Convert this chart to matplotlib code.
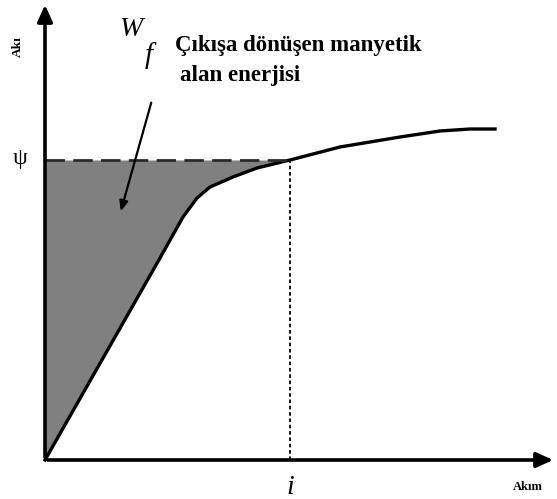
import matplotlib.pyplot as plt
import numpy as np

# magnetisation curve: akım (x) vs akı (y)
akim = [0, 115, 138, 152, 165, 188, 212, 245, 295, 355, 395, 425, 450]
aki = [0, 202, 243, 262, 273, 283, 292, 300, 313, 323, 329, 331, 331]
psi = 300
i_op = 245

plt.rcParams['font.family'] = ['Liberation Serif', 'DejaVu Serif']
fig = plt.figure(figsize=(5.57, 4.99), dpi=100)
ax = fig.add_axes([0, 0, 1, 1])
ax.set_xlim(-45, 512)
ax.set_ylim(-39, 460)
ax.axis('off')

# shaded co-energy region between curve and psi level
xs = np.linspace(0, i_op, 200)
ys = np.interp(xs, akim, aki)
ax.fill_between(xs, ys, psi, color='#808080', lw=0)

ax.plot(akim, aki, color='black', lw=2.4, solid_joinstyle='round')
ax.plot([0, i_op], [psi, psi], color='#2a2a2a', lw=2, dashes=(7, 3))
ax.plot([i_op, i_op], [0, psi], color='black', lw=1.3, dashes=(2, 1.5))

# axes with arrow heads
ax.annotate('', xy=(0, 458), xytext=(0, 0),
            arrowprops=dict(arrowstyle='-|>,head_length=1.0,head_width=0.45', color='black', lw=2.6))
ax.annotate('', xy=(511, 0), xytext=(0, 0),
            arrowprops=dict(arrowstyle='-|>,head_length=1.0,head_width=0.45', color='black', lw=2.6))

# pointer to shaded area
ax.annotate('', xy=(75, 246), xytext=(107, 360),
            arrowprops=dict(arrowstyle='-|>,head_length=0.6,head_width=0.25', color='black', lw=1.6))

ax.text(-27, 413, 'Akı', rotation=90, ha='center', va='center', fontsize=9.5, fontweight='bold')
ax.text(-25, 302, 'ψ', ha='center', va='center', fontsize=17)
ax.text(86, 431, 'W', ha='center', va='center', fontsize=20, fontstyle='italic')
ax.text(104, 404, 'f', ha='center', va='center', fontsize=21, fontstyle='italic')
ax.text(130, 415, 'Çıkışa dönüşen manyetik', ha='left', va='center', fontsize=16.5, fontweight='bold')
ax.text(135, 385, 'alan enerjisi', ha='left', va='center', fontsize=16.5, fontweight='bold')
ax.text(i_op, -27, 'i', ha='center', va='center', fontsize=20, fontstyle='italic')
ax.text(483, -27, 'Akım', ha='center', va='center', fontsize=9, fontweight='bold')

fig.savefig('out.png', dpi=100)
